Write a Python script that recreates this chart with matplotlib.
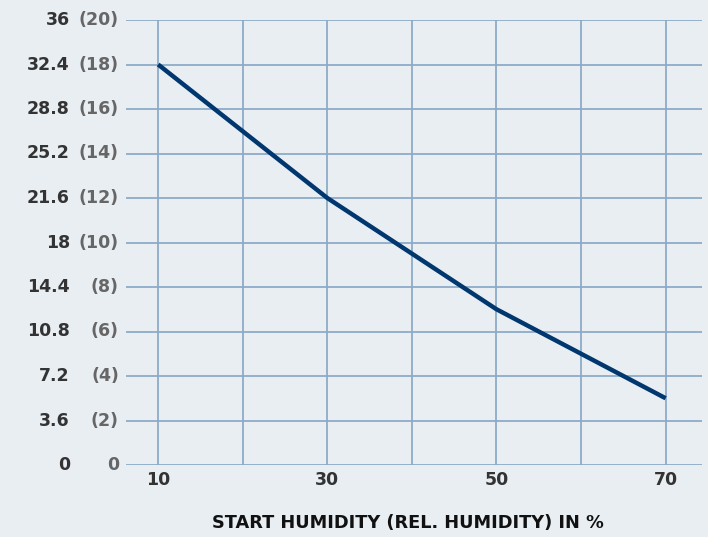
import numpy as np
import matplotlib.pyplot as plt
from matplotlib.transforms import blended_transform_factory

humidity = [10, 30, 50, 70]
value = [32.4, 21.6, 12.6, 5.4]

y_ticks = [0, 3.6, 7.2, 10.8, 14.4, 18, 21.6, 25.2, 28.8, 32.4, 36]
y_main = ["0", "3.6", "7.2", "10.8", "14.4", "18", "21.6", "25.2", "28.8", "32.4", "36"]
y_alt = ["0", "(2)", "(4)", "(6)", "(8)", "(10)", "(12)", "(14)", "(16)", "(18)", "(20)"]
x_grid = [10, 20, 30, 40, 50, 60, 70]
x_labels = [10, 30, 50, 70]

bg = "#e9eef3"
grid_c = "#8cabc8"
line_c = "#00376f"
dark = "#333333"
gray = "#666666"

plt.rcParams["font.family"] = ["DejaVu Sans"]

fig = plt.figure(figsize=(7.08, 5.37), dpi=100, facecolor=bg)
ax = fig.add_axes([126/708, 72/537, 576/708, 445/537])
ax.set_facecolor(bg)

ax.set_xlim(6.2, 74.3)
ax.set_ylim(0, 36)

for yv in y_ticks:
    ax.axhline(yv, color=grid_c, lw=1.3, zorder=1)
for xv in x_grid:
    ax.axvline(xv, color=grid_c, lw=1.3, zorder=1)

ax.plot(humidity, value, color=line_c, lw=3.2, solid_capstyle="butt", zorder=3)

ax.spines[:].set_visible(False)
ax.set_yticks([])
ax.set_xticks(x_labels)
ax.set_xticklabels([str(v) for v in x_labels], fontsize=12.5, fontweight="bold", color=dark)
ax.tick_params(axis="x", length=0, pad=4)

tr = blended_transform_factory(fig.transFigure, ax.transData)
for yv, m, a in zip(y_ticks, y_main, y_alt):
    ax.text(70/708, yv, m, transform=tr, ha="right", va="center",
            fontsize=12.5, fontweight="bold", color=dark)
    ax.text(119/708, yv, a, transform=tr, ha="right", va="center",
            fontsize=12.5, fontweight="bold", color=gray)

fig.text(408/708, 1 - 523/537, "START HUMIDITY (REL. HUMIDITY) IN %",
         ha="center", va="center", fontsize=12.8, fontweight="bold", color="#111111")

fig.savefig("out.png", dpi=100, facecolor=bg)
